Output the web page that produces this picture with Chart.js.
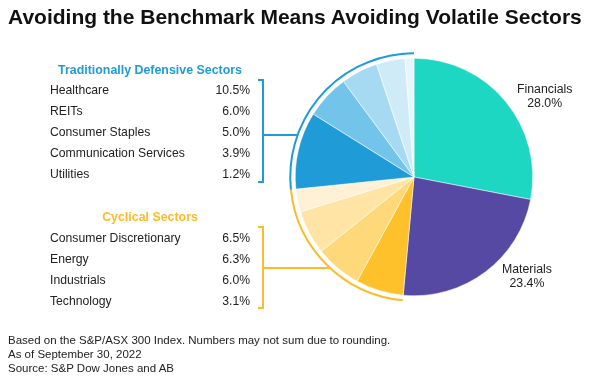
<!DOCTYPE html>
<html>
<head>
<meta charset="utf-8">
<script src="https://cdn.jsdelivr.net/npm/chart.js@4"></script>
<style>
  body { margin: 0; background: #fff; font-family: "Liberation Sans", Arial, sans-serif; color: #222; }
  #wrap { position: relative; width: 596px; height: 379px; overflow: hidden; }
  #pie { position: absolute; left: 0; top: 0; }
  .t { position: absolute; white-space: nowrap; }
  #title { left: 8px; top: 5px; font-size: 21px; font-weight: bold; color: #111; }
  .head { font-size: 12.4px; font-weight: bold; width: 200px; text-align: center; left: 50px; }
  .row { left: 50px; width: 200px; font-size: 12.2px; }
  .row span { position: absolute; right: 0; }
  .lbl { font-size: 12.3px; text-align: center; line-height: 14px; }
  #foot { left: 8px; top: 333px; font-size: 11.5px; line-height: 14px; }
</style>
</head>
<body>
<div id="wrap">
  <canvas id="pie" width="596" height="379"></canvas>
  <div class="t" id="title">Avoiding the Benchmark Means Avoiding Volatile Sectors</div>
  <div class="t head" style="top:63px;color:#1f9bd7">Traditionally Defensive Sectors</div>
  <div class="t head" style="top:210px;color:#fdbb2a">Cyclical Sectors</div>
  <div class="t lbl" style="left:517px;top:82px">Financials<br>28.0%</div>
  <div class="t lbl" style="left:502px;top:262px">Materials<br>23.4%</div>
  <div class="t" id="foot">Based on the S&amp;P/ASX 300 Index. Numbers may not sum due to rounding.<br>As of September 30, 2022<br>Source: S&amp;P Dow Jones and AB</div>
</div>
<script>
// datos del grafico
var mainSectors = ['Financials', 'Materials'];
var mainValues = [28.0, 23.4];
var cyclicalSectors = ['Consumer Discretionary', 'Energy', 'Industrials', 'Technology'];
var cyclicalValues = [6.5, 6.3, 6.0, 3.1];
var defensiveSectors = ['Healthcare', 'REITs', 'Consumer Staples', 'Communication Services', 'Utilities'];
var defensiveValues = [10.5, 6.0, 5.0, 3.9, 1.2];

var mainColors = ['#1ed7c2', '#5649a3'];
var cyclicalColors = ['#ffc12b', '#ffd879', '#ffe4a6', '#fff1d6'];
var defensiveColors = ['#1f9bd7', '#73c4ea', '#a6d9f2', '#d0ebf8', '#e8f5fc'];

// filas de la leyenda
function addRows(names, values, top) {
    var wrap = document.getElementById('wrap');
    for (let i = 0; i < names.length; i++) {
        var div = document.createElement('div');
        div.className = 't row';
        div.style.top = (top + i * 21) + 'px';
        div.innerHTML = names[i] + '<span>' + values[i].toFixed(1) + '%</span>';
        wrap.appendChild(div);
    }
}
addRows(defensiveSectors, defensiveValues, 83);
addRows(cyclicalSectors, cyclicalValues, 231);

// arcos y corchetes de cada grupo
const groupPlugin = {
    id: 'groups',
    afterDatasetsDraw(chart) {
        const ctx = chart.ctx;
        const arcs = chart.getDatasetMeta(0).data;
        const nMain = mainValues.length;
        const nCyc = cyclicalValues.length;
        const groups = [
            {from: nMain, to: nMain + nCyc - 1, color: '#fdbb2a', top: 227, bottom: 308, y: 268},
            {from: nMain + nCyc, to: arcs.length - 1, color: '#1f9bd7', top: 80, bottom: 182, y: 135}
        ];
        ctx.save();
        groups.forEach(function(g) {
            const a0 = arcs[g.from], a1 = arcs[g.to];
            const cx = a0.x, cy = a0.y, r = a0.outerRadius + 5;
            ctx.strokeStyle = g.color;
            ctx.lineWidth = 2;
            ctx.beginPath();
            ctx.arc(cx, cy, r, a0.startAngle, a1.endAngle);
            ctx.stroke();
            // corchete
            const bx = 263;
            ctx.beginPath();
            ctx.moveTo(bx - 5, g.top);
            ctx.lineTo(bx, g.top);
            ctx.lineTo(bx, g.bottom);
            ctx.lineTo(bx - 5, g.bottom);
            ctx.stroke();
            // conector hasta el arco
            const dy = g.y - cy;
            const ex = cx - Math.sqrt(r * r - dy * dy);
            ctx.beginPath();
            ctx.moveTo(bx, g.y);
            ctx.lineTo(ex, g.y);
            ctx.stroke();
        });
        ctx.restore();
    }
};

const ctx = document.getElementById('pie').getContext('2d');
new Chart(ctx, {
    type: 'pie',
    data: {
        labels: mainSectors.concat(cyclicalSectors, defensiveSectors),
        datasets: [{
            data: mainValues.concat(cyclicalValues, defensiveValues),
            backgroundColor: mainColors.concat(cyclicalColors, defensiveColors),
            borderColor: '#ffffff',
            borderWidth: 0.5
        }]
    },
    options: {
        responsive: false,
        animation: false,
        layout: { padding: { left: 295, right: 63, top: 58, bottom: 83 } },
        plugins: { legend: { display: false }, tooltip: { enabled: false } }
    },
    plugins: [groupPlugin]
});
</script>
</body>
</html>
